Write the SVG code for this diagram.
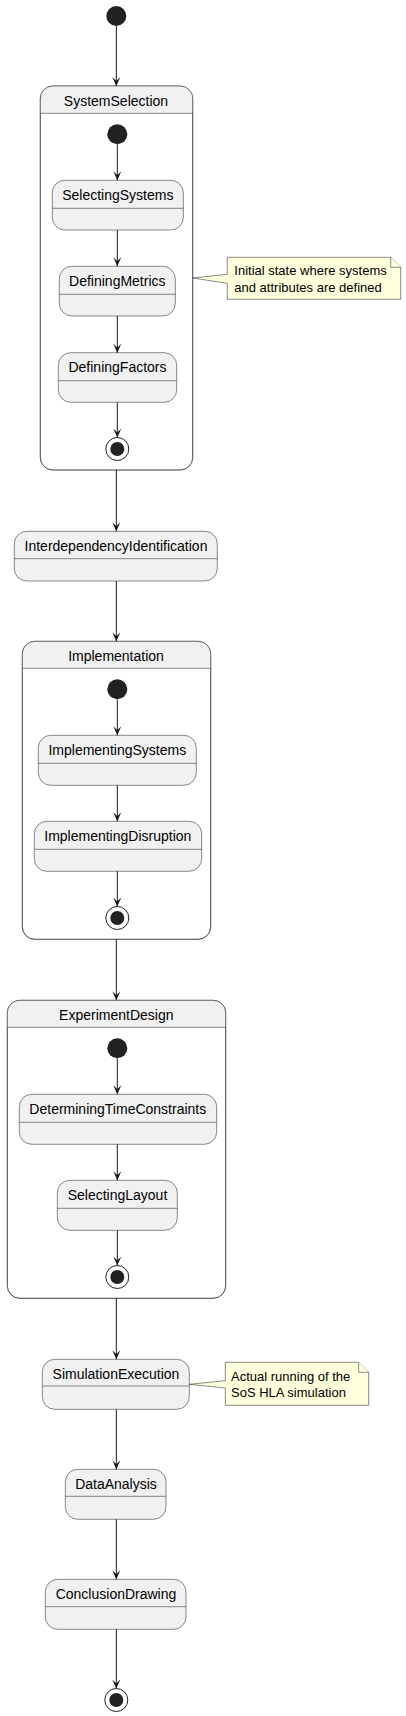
<svg xmlns="http://www.w3.org/2000/svg" width="406" height="1716" viewBox="0 0 406 1716">
<style>
.st{fill:#F1F1F1;stroke:#181818;stroke-width:0.5}
.cp{fill:#FFFFFF;stroke:#181818;stroke-width:0.5}
.hd{fill:#F1F1F1;stroke:none}
.dv{stroke:#181818;stroke-width:0.5;fill:none}
.t{font-family:"Liberation Sans",Arial,sans-serif;font-size:14px;fill:#000;text-anchor:middle}
.n{font-family:"Liberation Sans",Arial,sans-serif;font-size:13px;fill:#000}
.note{fill:#FEFFDD;stroke:#181818;stroke-width:0.5}
.start{fill:#222222}
.endo{fill:none;stroke:#222222;stroke-width:1}
.endi{fill:#222222}
.ln{stroke:#181818;stroke-width:1;fill:none}
</style>
<defs>
<marker id="ah" viewBox="0 0 10 10" refX="9" refY="5" markerWidth="10" markerHeight="10" markerUnits="userSpaceOnUse" orient="auto">
<path d="M0,1 L9,5 L0,9 L4,5 Z" fill="#181818"/>
</marker>
</defs>

<g id="start"><circle class="start" cx="116.3" cy="16" r="10"/></g>

<g id="SystemSelection">
<rect class="cp" x="40.3" y="86" width="152.4" height="384" rx="12.5"/>
<path class="hd" d="M40.55,113.3 V98.5 A12.25,12.25 0 0 1 52.8,86.25 H180.2 A12.25,12.25 0 0 1 192.45,98.5 V113.3 Z"/>
<rect x="40.3" y="86" width="152.4" height="384" rx="12.5" fill="none" stroke="#181818" stroke-width="0.5"/>
<line class="dv" x1="40.3" y1="113.3" x2="192.7" y2="113.3"/>
<text class="t" x="116" y="105.7">SystemSelection</text>
<circle class="start" cx="117.3" cy="134.3" r="10"/>
<g id="SelectingSystems">
<rect class="st" x="52.3" y="180.3" width="131" height="49.7" rx="12.5"/>
<line class="dv" x1="52.3" y1="208.3" x2="183.3" y2="208.3"/>
<text class="t" x="117.8" y="199.5">SelectingSystems</text>
</g>
<g id="DefiningMetrics">
<rect class="st" x="59.3" y="266.3" width="116" height="49.7" rx="12.5"/>
<line class="dv" x1="59.3" y1="294.3" x2="175.3" y2="294.3"/>
<text class="t" x="117.3" y="285.5">DefiningMetrics</text>
</g>
<g id="DefiningFactors">
<rect class="st" x="58.3" y="352.7" width="118.4" height="49.6" rx="12.5"/>
<line class="dv" x1="58.3" y1="380.7" x2="176.7" y2="380.7"/>
<text class="t" x="117.5" y="371.9">DefiningFactors</text>
</g>
<g id="SystemSelection_end">
<circle class="endo" cx="117.3" cy="449" r="11.5"/>
<circle class="endi" cx="117.3" cy="449" r="7"/>
</g>
</g>

<g id="note1">
<path class="note" d="M227.3,257.3 L227.3,274.3 L192.7,278 L227.3,283.3 L227.3,299.3 L400.7,299.3 L400.7,267.3 L390.7,257.3 Z"/>
<path class="note" d="M390.7,257.3 L390.7,267.3 L400.7,267.3"/>
<text class="n" x="234.3" y="275">Initial state where systems</text>
<text class="n" x="234.3" y="291.5">and attributes are defined</text>
</g>

<g id="InterdependencyIdentification">
<rect class="st" x="14.3" y="531.3" width="203" height="49.7" rx="12.5"/>
<line class="dv" x1="14.3" y1="558.7" x2="217.3" y2="558.7"/>
<text class="t" x="116" y="550.8">InterdependencyIdentification</text>
</g>

<g id="Implementation">
<rect class="cp" x="22.3" y="641.3" width="188.4" height="298" rx="12.5"/>
<path class="hd" d="M22.55,668.3 V653.8 A12.25,12.25 0 0 1 34.8,641.55 H198.2 A12.25,12.25 0 0 1 210.45,653.8 V668.3 Z"/>
<rect x="22.3" y="641.3" width="188.4" height="298" rx="12.5" fill="none" stroke="#181818" stroke-width="0.5"/>
<line class="dv" x1="22.3" y1="668.3" x2="210.7" y2="668.3"/>
<text class="t" x="116" y="660.7">Implementation</text>
<circle class="start" cx="117.3" cy="689.3" r="10"/>
<g id="ImplementingSystems">
<rect class="st" x="38.3" y="735.3" width="158" height="50" rx="12.5"/>
<line class="dv" x1="38.3" y1="763.3" x2="196.3" y2="763.3"/>
<text class="t" x="117.3" y="754.5">ImplementingSystems</text>
</g>
<g id="ImplementingDisruption">
<rect class="st" x="34.3" y="821.3" width="167.4" height="50" rx="12.5"/>
<line class="dv" x1="34.3" y1="849.3" x2="201.7" y2="849.3"/>
<text class="t" x="117.8" y="840.5">ImplementingDisruption</text>
</g>
<g id="Implementation_end">
<circle class="endo" cx="117.3" cy="918" r="11.5"/>
<circle class="endi" cx="117.3" cy="918" r="7"/>
</g>
</g>

<g id="ExperimentDesign">
<rect class="cp" x="7.3" y="1000.3" width="218.4" height="298" rx="12.5"/>
<path class="hd" d="M7.55,1027.3 V1012.8 A12.25,12.25 0 0 1 19.8,1000.55 H213.2 A12.25,12.25 0 0 1 225.45,1012.8 V1027.3 Z"/>
<rect x="7.3" y="1000.3" width="218.4" height="298" rx="12.5" fill="none" stroke="#181818" stroke-width="0.5"/>
<line class="dv" x1="7.3" y1="1027.3" x2="225.7" y2="1027.3"/>
<text class="t" x="116.3" y="1020">ExperimentDesign</text>
<circle class="start" cx="117.3" cy="1048.3" r="10"/>
<g id="DeterminingTimeConstraints">
<rect class="st" x="19.3" y="1094.3" width="197.4" height="50" rx="12.5"/>
<line class="dv" x1="19.3" y1="1122.3" x2="216.7" y2="1122.3"/>
<text class="t" x="117.8" y="1113.5">DeterminingTimeConstraints</text>
</g>
<g id="SelectingLayout">
<rect class="st" x="57.3" y="1180.3" width="120" height="50" rx="12.5"/>
<line class="dv" x1="57.3" y1="1208.3" x2="177.3" y2="1208.3"/>
<text class="t" x="117.5" y="1199.5">SelectingLayout</text>
</g>
<g id="ExperimentDesign_end">
<circle class="endo" cx="117.3" cy="1277" r="11.5"/>
<circle class="endi" cx="117.3" cy="1277" r="7"/>
</g>
</g>

<g id="SimulationExecution">
<rect class="st" x="42.3" y="1359.3" width="147" height="50" rx="12.5"/>
<line class="dv" x1="42.3" y1="1386" x2="189.3" y2="1386"/>
<text class="t" x="116" y="1378.5">SimulationExecution</text>
</g>

<g id="note2">
<path class="note" d="M225.3,1362.3 L225.3,1380.7 L189.3,1384.3 L225.3,1388 L225.3,1405.3 L368.7,1405.3 L368.7,1372.3 L358.7,1362.3 Z"/>
<path class="note" d="M358.7,1362.3 L358.7,1372.3 L368.7,1372.3"/>
<text class="n" x="231" y="1380.5">Actual running of the</text>
<text class="n" x="231" y="1396.5">SoS HLA simulation</text>
</g>

<g id="DataAnalysis">
<rect class="st" x="65.3" y="1469.3" width="100.7" height="50" rx="12.5"/>
<line class="dv" x1="65.3" y1="1496.3" x2="166" y2="1496.3"/>
<text class="t" x="116" y="1488.5">DataAnalysis</text>
</g>

<g id="ConclusionDrawing">
<rect class="st" x="45.3" y="1579.3" width="140.7" height="50" rx="12.5"/>
<line class="dv" x1="45.3" y1="1606.7" x2="186" y2="1606.7"/>
<text class="t" x="116" y="1598.5">ConclusionDrawing</text>
</g>

<g id="end">
<circle class="endo" cx="116.3" cy="1700" r="11.5"/>
<circle class="endi" cx="116.3" cy="1700" r="7"/>
</g>

<g id="connectors">
<line class="ln" x1="116.3" y1="26" x2="116.3" y2="86" marker-end="url(#ah)"/>
<line class="ln" x1="117.3" y1="144.3" x2="117.3" y2="180.3" marker-end="url(#ah)"/>
<line class="ln" x1="117.3" y1="230" x2="117.3" y2="266.3" marker-end="url(#ah)"/>
<line class="ln" x1="117.3" y1="316" x2="117.3" y2="352.7" marker-end="url(#ah)"/>
<line class="ln" x1="117.3" y1="402.3" x2="117.3" y2="437.5" marker-end="url(#ah)"/>
<line class="ln" x1="116.3" y1="470" x2="116.3" y2="531.3" marker-end="url(#ah)"/>
<line class="ln" x1="116.3" y1="581" x2="116.3" y2="641.3" marker-end="url(#ah)"/>
<line class="ln" x1="117.3" y1="699.3" x2="117.3" y2="735.3" marker-end="url(#ah)"/>
<line class="ln" x1="117.3" y1="785.3" x2="117.3" y2="821.3" marker-end="url(#ah)"/>
<line class="ln" x1="117.3" y1="871.3" x2="117.3" y2="906.5" marker-end="url(#ah)"/>
<line class="ln" x1="116.3" y1="939.3" x2="116.3" y2="1000.3" marker-end="url(#ah)"/>
<line class="ln" x1="117.3" y1="1058.3" x2="117.3" y2="1094.3" marker-end="url(#ah)"/>
<line class="ln" x1="117.3" y1="1144.3" x2="117.3" y2="1180.3" marker-end="url(#ah)"/>
<line class="ln" x1="117.3" y1="1230.3" x2="117.3" y2="1265.5" marker-end="url(#ah)"/>
<line class="ln" x1="116.3" y1="1298.3" x2="116.3" y2="1359.3" marker-end="url(#ah)"/>
<line class="ln" x1="116.3" y1="1409.3" x2="116.3" y2="1469.3" marker-end="url(#ah)"/>
<line class="ln" x1="116.3" y1="1519.3" x2="116.3" y2="1579.3" marker-end="url(#ah)"/>
<line class="ln" x1="116.3" y1="1629.3" x2="116.3" y2="1688.5" marker-end="url(#ah)"/>
</g>
</svg>
